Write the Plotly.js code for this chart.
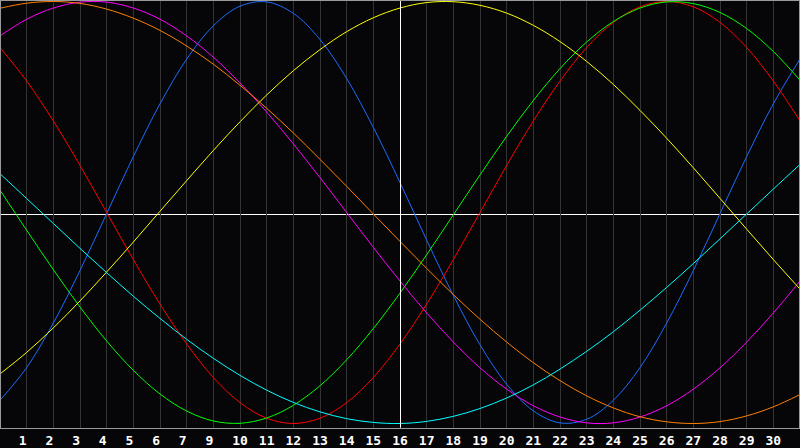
<!DOCTYPE html>
<html>
<head>
<meta charset="utf-8">
<script src="https://cdn.plot.ly/plotly-3.0.1.min.js"></script>
<style>
html,body{margin:0;padding:0;background:#060609;}
#chart{width:800px;height:448px;}
</style>
</head>
<body>
<div id="chart"></div>
<script>
// day positions (0 = left edge, 30 = right edge)
const days = [0,1,2,3,4,5,6,7,8,9,10,11,12,13,14,15,16,17,18,19,20,21,22,23,24,25,26,27,28,29,30];
// gridline / label positions and texts (the original skips "8")
const tickDays = [1,2,3,4,5,6,7,8,9,10,11,12,13,14,15,16,17,18,19,20,21,22,23,24,25,26,27,28,29];
const tickLabels = ["1","2","3","4","5","6","7","9","10","11","12","13","14","15","16","17","18","19","20","21","22","23","24","25","26","27","28","29","30"];
const todayDay = 15;

// cycle values (-1 .. 1)
const physical = [-0.890,-0.735,-0.524,-0.275,-0.005,0.265,0.515,0.727,0.885,0.978,0.998,0.944,0.820,0.635,0.403,0.142,-0.131,-0.393,-0.627,-0.814,-0.940,-0.997,-0.980,-0.890,-0.735,-0.524,-0.275,-0.005,0.265,0.515,0.727];
const emotional = [0.782,0.623,0.434,0.223,0.000,-0.223,-0.434,-0.623,-0.782,-0.901,-0.975,-1.000,-0.975,-0.901,-0.782,-0.623,-0.434,-0.223,0.000,0.223,0.434,0.623,0.782,0.901,0.975,1.000,0.975,0.901,0.782,0.623,0.434];
const intellectual = [0.106,-0.084,-0.271,-0.448,-0.609,-0.748,-0.860,-0.941,-0.988,-0.999,-0.974,-0.914,-0.821,-0.698,-0.550,-0.382,-0.200,-0.011,0.178,0.361,0.531,0.682,0.808,0.905,0.969,0.998,0.990,0.948,0.872,0.763,0.627];
const intuitive = [0.837,0.916,0.969,0.997,0.997,0.969,0.916,0.837,0.736,0.614,0.476,0.325,0.165,0.000,-0.165,-0.325,-0.476,-0.614,-0.736,-0.837,-0.916,-0.969,-0.997,-0.997,-0.969,-0.916,-0.837,-0.736,-0.614,-0.476,-0.325];
const aesthetic = [-0.765,-0.663,-0.547,-0.419,-0.282,-0.140,0.006,0.151,0.294,0.430,0.557,0.672,0.772,0.857,0.923,0.969,0.995,0.999,0.982,0.945,0.887,0.810,0.716,0.607,0.484,0.352,0.212,0.067,-0.079,-0.223,-0.363];
const awareness = [0.968,0.992,1.000,0.991,0.964,0.921,0.863,0.789,0.703,0.603,0.494,0.377,0.252,0.124,-0.007,-0.137,-0.265,-0.389,-0.506,-0.614,-0.712,-0.797,-0.869,-0.926,-0.968,-0.992,-1.000,-0.991,-0.964,-0.921,-0.863];
const spiritual = [0.184,0.066,-0.052,-0.170,-0.285,-0.397,-0.502,-0.601,-0.691,-0.772,-0.842,-0.900,-0.945,-0.977,-0.995,-1.000,-0.990,-0.966,-0.929,-0.879,-0.817,-0.742,-0.658,-0.565,-0.463,-0.355,-0.242,-0.125,-0.007,0.111,0.228];

const seriesNames = ["Physical","Emotional","Intellectual","Intuitive","Aesthetic","Awareness","Spiritual"];
const seriesValues = [physical, emotional, intellectual, intuitive, aesthetic, awareness, spiritual];
const seriesColors = ["#1c6cff","#ff0000","#00ff00","#ff00ff","#ffff00","#ff8000","#00ffff"];

const traces = seriesValues.map((vals, i) => ({
  type: 'scatter',
  mode: 'lines',
  x: days,
  y: vals,
  name: seriesNames[i],
  line: {color: seriesColors[i], width: 1, shape: 'spline', smoothing: 1},
  hoverinfo: 'skip'
}));

// pad single-digit labels so the digit sits slightly left, as in the original
const shownLabels = tickLabels.map(t => t.length === 1 ? t + '\u00a0' : t);

const layout = {
  width: 800,
  height: 448,
  margin: {l: 1, r: 1, t: 1, b: 20, pad: 0},
  paper_bgcolor: '#060609',
  plot_bgcolor: '#060609',
  showlegend: false,
  xaxis: {
    range: [0.0375, 29.9625],
    tickmode: 'array',
    tickvals: tickDays,
    ticktext: shownLabels,
    showgrid: true,
    gridcolor: '#333333',
    gridwidth: 1,
    zeroline: false,
    ticks: '',
    showline: true,
    mirror: true,
    linecolor: '#9a9a9a',
    linewidth: 1,
    tickfont: {family: 'DejaVu Sans Mono', size: 13, color: '#ffffff', weight: 'bold'},
    fixedrange: true
  },
  yaxis: {
    range: [-1.02133, 1.00237],
    showgrid: false,
    zeroline: false,
    showticklabels: false,
    ticks: '',
    showline: true,
    mirror: true,
    linecolor: '#9a9a9a',
    linewidth: 1,
    fixedrange: true
  },
  shapes: [
    {type: 'line', xref: 'x', yref: 'y', x0: todayDay + 0.019, x1: todayDay + 0.019, y0: -1.02, y1: 1.002,
     line: {color: '#ffffff', width: 1}, layer: 'above'},
    {type: 'line', xref: 'paper', yref: 'y', x0: 0, x1: 1, y0: -0.0095, y1: -0.0095,
     line: {color: '#ffffff', width: 1}, layer: 'between'}
  ]
};

Plotly.newPlot('chart', traces, layout, {staticPlot: true, displayModeBar: false});
</script>
</body>
</html>
